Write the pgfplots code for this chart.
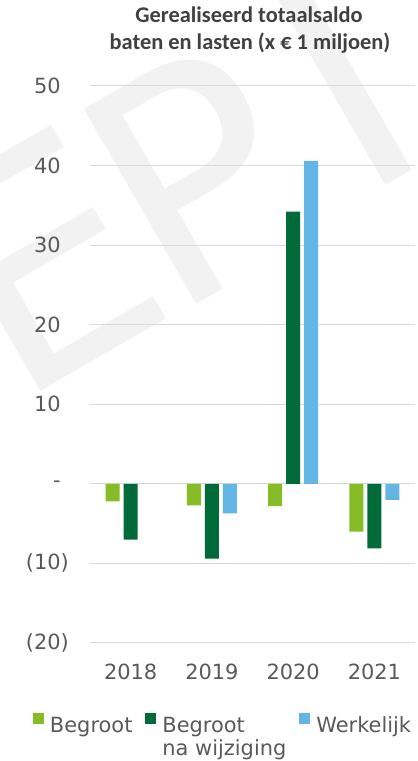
\documentclass[border=0pt]{standalone}
\usepackage{pgfplots}
\pgfplotsset{compat=1.18}
\usepackage{fontspec}
\setmainfont{DejaVu Sans}
\newfontfamily\titlefont{Carlito}
\definecolor{lgreen}{HTML}{86BC25}
\definecolor{dgreen}{HTML}{006A38}
\definecolor{lblue}{HTML}{63B5E5}
\definecolor{txt}{HTML}{595959}
\definecolor{ttl}{HTML}{404040}
\definecolor{gridc}{HTML}{D9D9D9}
\definecolor{wm}{HTML}{F2F2F2}
\pgfplotsset{sqlegend/.style={legend image code/.code={\fill[##1] (0bp,2bp) rectangle (11bp,13bp);}}}
\begin{document}
\begin{tikzpicture}[x=1bp,y=1bp]
\useasboundingbox (0,0) rectangle (417,761);
\begin{scope}[every node/.style={rotate=30, anchor=base west, inner sep=0pt, outer sep=0pt, text=wm, font=\fontsize{310}{310}\selectfont}]
\node at (14,354) {E};
\node at (170,441) {P};
\node at (359,560) {I};
\end{scope}
\begin{axis}[
  at={(90bp,118bp)}, anchor=south west,
  scale only axis, width=325bp, height=557bp,
  xmin=-0.5, xmax=3.5, ymin=-20, ymax=50,
  axis line style={draw=none}, tick style={draw=none},
  ytick={-20,-10,0,10,20,30,40,50},
  yticklabels={{(20)},{(10)},{-\hphantom{)}},{10\hphantom{)}},{20\hphantom{)}},{30\hphantom{)}},{40\hphantom{)}},{50\hphantom{)}}},
  xtick={0,1,2,3}, xticklabels={2018,2019,2020,2021},
  ymajorgrids, grid style={gridc, line width=1bp},
  ybar=4bp, bar width=14bp,
  tick label style={font=\fontsize{21}{24}\selectfont, text=txt},
  yticklabel style={anchor=east, inner sep=0pt, xshift=-21bp},
  xticklabel style={anchor=north, inner sep=0pt, yshift=-17bp},
  legend columns=3,
  legend style={at={(-0.1754,-0.1248)}, anchor=north west, draw=none, fill=none,
    inner sep=0pt, outer sep=0pt, font=\fontsize{21}{23}\selectfont, text=txt,
    nodes={inner sep=0pt},
    /tikz/every odd column/.style={column sep=6bp},
    /tikz/every even column/.style={column sep=13bp}},
]
\addplot[fill=lgreen, draw=none, sqlegend]
  coordinates {(0,-2.2) (1,-2.7) (2,-2.8) (3,-6.0)};
\addlegendentry{Begroot}
\addplot[fill=dgreen, draw=none, sqlegend]
  coordinates {(0,-7.0) (1,-9.4) (2,34.2) (3,-8.1)};
\addlegendentry{\begin{tabular}[t]{@{}l@{}}Begroot\\na wijziging\end{tabular}}
\addplot[fill=lblue, draw=none, sqlegend]
  coordinates {(0,0) (1,-3.7) (2,40.6) (3,-2.0)};
\addlegendentry{Werkelijk}
\end{axis}
\node[font=\titlefont\bfseries\fontsize{22.5}{25}\selectfont, text=ttl, anchor=base, inner sep=0pt] at (249,738.3) {Gerealiseerd totaalsaldo};
\node[font=\titlefont\bfseries\fontsize{22.5}{25}\selectfont, text=ttl, anchor=base, inner sep=0pt] at (250,711) {baten en lasten (x € 1 miljoen)};
\end{tikzpicture}
\end{document}
